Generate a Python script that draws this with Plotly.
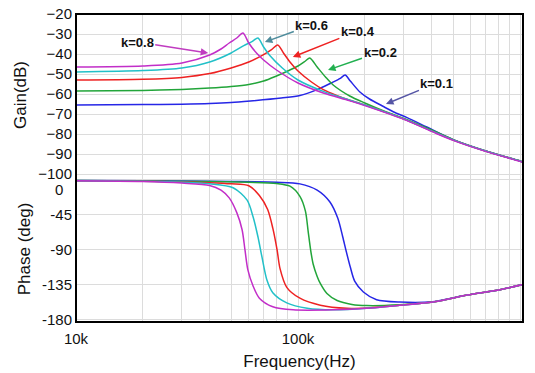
import plotly.graph_objects as go
from plotly.subplots import make_subplots
import math

# ---------------- data ----------------
labels = ["k=0.1", "k=0.2", "k=0.4", "k=0.6", "k=0.8"]
colors = ["#2626e6", "#22a53a", "#ee2222", "#22c0c8", "#c22ec8"]

# Gain curves (Hz, dB)
gain_f_01 = [10e3, 20e3, 30e3, 40e3, 50e3, 61e3, 84e3, 102e3, 122e3, 141e3, 155e3, 163e3, 172e3,
             190e3, 210e3, 240e3, 270e3, 310e3, 380e3, 500e3, 700e3, 1000e3, 1030e3]
gain_01 = [-65.5, -65.3, -65.1, -64.8, -64.3, -63.5, -62, -60.8, -57.8, -54.5, -52.2, -50.5, -53.5,
           -59, -62.5, -66, -69, -71.8, -76.5, -82.8, -88.5, -93.5, -94]

gain_f_02 = [10e3, 20e3, 30e3, 40e3, 50e3, 60e3, 70e3, 80e3, 90e3, 100e3, 108e3, 113e3, 122e3,
             133e3, 144e3, 171e3, 200e3, 250e3, 300e3, 400e3, 500e3, 700e3, 1000e3, 1030e3]
gain_02 = [-58.5, -58.2, -57.7, -57, -56.2, -55.2, -53.5, -51, -48.5, -46, -43.5, -42, -46.5,
           -51.5, -55.5, -61, -64.5, -69, -72.2, -78, -82.8, -88.5, -93.5, -94]

gain_f_04 = [10e3, 20e3, 30e3, 40e3, 50e3, 60e3, 70e3, 76e3, 81e3, 86e3, 92e3, 100e3, 115e3,
             130e3, 150e3, 170e3, 200e3, 300e3, 400e3, 500e3, 700e3, 1000e3, 1030e3]
gain_04 = [-53, -52.6, -51.7, -49.8, -47, -44, -40.3, -37.8, -35.5, -39.5, -44, -48.5, -54,
           -57.8, -60.8, -63, -65.5, -72.5, -78.5, -83, -88.5, -93.5, -94]

gain_f_06 = [10e3, 20e3, 30e3, 40e3, 50e3, 57e3, 62e3, 66e3, 70e3, 75e3, 85e3, 100e3, 130e3,
             170e3, 200e3, 300e3, 400e3, 500e3, 700e3, 1000e3, 1030e3]
gain_06 = [-49, -48.3, -47, -44, -39.5, -35.8, -33.8, -32, -36.5, -41, -47, -53, -58.7,
           -63, -65.5, -72.5, -78.5, -83, -88.5, -93.5, -94]

gain_f_08 = [10e3, 20e3, 30e3, 40e3, 45e3, 49e3, 53e3, 56.5e3, 60e3, 65e3, 70e3, 80e3, 100e3,
             130e3, 170e3, 200e3, 300e3, 400e3, 500e3, 700e3, 1000e3, 1030e3]
gain_08 = [-46.5, -46, -44.5, -40.5, -37.5, -34.5, -32, -29.5, -34.5, -39.5, -43, -48, -54.5,
           -59.5, -63.3, -65.8, -72.7, -78.7, -83.2, -88.7, -93.7, -94.2]

# Phase curves (Hz, deg)
phase_f_01 = [10e3, 20e3, 50e3, 80e3, 102e3, 122e3, 139e3, 151e3, 159e3, 165e3, 172e3, 180e3,
              197e3, 226e3, 287e3, 405e3, 577e3, 812e3, 1030e3]
phase_01 = [-0.8, -1, -2, -3, -5, -13, -28, -49, -73, -92, -112, -130,
            -144, -154, -157, -156.5, -148, -141, -134.5]

phase_f_02 = [10e3, 20e3, 40e3, 60e3, 80e3, 92e3, 102e3, 108e3, 111e3, 114e3, 117e3, 122e3,
              126e3, 135e3, 150e3, 175e3, 204e3, 287e3, 405e3, 577e3, 812e3, 1030e3]
phase_02 = [-0.8, -1.2, -2, -3, -4.5, -8, -21, -40, -65, -90, -108, -124,
            -133, -146, -155, -160, -161.5, -160.5, -157, -148, -141, -134.5]

phase_f_04 = [10e3, 20e3, 30e3, 40e3, 50e3, 60e3, 67e3, 73e3, 77e3, 80.5e3, 83e3, 89e3,
              102e3, 126e3, 166e3, 204e3, 287e3, 405e3, 577e3, 812e3, 1030e3]
phase_04 = [-1, -1.5, -2.5, -3.5, -5, -7.5, -20, -38, -62, -90, -114, -138,
            -152, -161, -165, -164.5, -161, -157, -148, -141, -134.5]

phase_f_06 = [10e3, 20e3, 30e3, 40e3, 51e3, 59e3, 62.7e3, 66e3, 68.8e3, 72.5e3, 77e3, 89e3,
              110e3, 144e3, 204e3, 287e3, 405e3, 577e3, 812e3, 1030e3]
phase_06 = [-1, -1.8, -3, -5, -10, -26, -47, -73, -99, -129, -145, -158,
            -165, -167, -165, -161, -157, -148, -141, -134.5]

phase_f_08 = [10e3, 20e3, 30e3, 40e3, 45e3, 49e3, 53e3, 56e3, 57.7e3, 59.5e3, 62.7e3, 67e3,
              77e3, 95e3, 144e3, 204e3, 287e3, 405e3, 577e3, 812e3, 1030e3]
phase_08 = [-1, -2, -4, -7, -13, -23, -42, -64, -90, -116, -136, -152,
            -163, -167, -167, -165, -161, -157, -148, -141, -134.5]

gain_f = [gain_f_01, gain_f_02, gain_f_04, gain_f_06, gain_f_08]
gain = [gain_01, gain_02, gain_04, gain_06, gain_08]
phase_f = [phase_f_01, phase_f_02, phase_f_04, phase_f_06, phase_f_08]
phase = [phase_01, phase_02, phase_04, phase_06, phase_08]

gain_ticks = [-20, -30, -40, -50, -60, -70, -80, -90, -100]
phase_ticks = [0, -45, -90, -135, -180]
x_major = {1e4: "10k", 1e5: "100k", 1e6: "1000k"}

# label annotations: (label, arrow head freq, arrow head gain, text offset px, arrow colour)
ann_label = ["k=0.8", "k=0.6", "k=0.4", "k=0.2", "k=0.1"]
ann_head_f = [39.4e3, 70.9e3, 94.8e3, 136.5e3, 249e3]
ann_head_g = [-39.5, -34, -41.5, -48, -65]
ann_dx = [-71, 47, 65, 52, 51]
ann_dy = [-11, -17, -26, -18, -21]
ann_color = ["#c03cc0", "#4f8c9c", "#ee2222", "#22b050", "#5555a5"]

# ---------------- figure ----------------
FONT = "Liberation Sans, Arial, sans-serif"
TXT = "#111"
fig = make_subplots(rows=2, cols=1, shared_xaxes=True, vertical_spacing=0,
                    row_heights=[162 / 308, 146 / 308])

for i in range(len(labels)):
    fig.add_trace(go.Scatter(x=gain_f[i], y=gain[i], mode="lines", name=labels[i],
                             line=dict(color=colors[i], width=1.5, shape="spline", smoothing=0.8),
                             showlegend=False, hoverinfo="skip"), row=1, col=1)
for i in range(len(labels)):
    fig.add_trace(go.Scatter(x=phase_f[i], y=phase[i], mode="lines", name=labels[i],
                             line=dict(color=colors[i], width=1.5, shape="spline", smoothing=0.8),
                             showlegend=False, hoverinfo="skip"), row=2, col=1)

grid_vals = []
grid_text = []
for dec in [1e4, 1e5]:
    for m in range(1, 10):
        v = m * dec
        grid_vals.append(v)
        grid_text.append(x_major.get(v, ""))
grid_vals.append(1e6)
grid_text.append("1000k")

GRID = "#dcdcdc"
xcommon = dict(type="log", range=[4, 6.0135], tickvals=grid_vals, ticktext=grid_text,
               showgrid=True, gridcolor=GRID, gridwidth=1, zeroline=False, ticks="",
               showline=False, automargin=False, ticklabelstandoff=6,
               tickfont=dict(family=FONT, size=15, color=TXT))
fig.update_xaxes(**xcommon)
fig.update_xaxes(showticklabels=False, row=1, col=1)
fig.update_xaxes(title=dict(text="Frequency(Hz)", font=dict(family=FONT, size=17, color=TXT),
                            standoff=9), row=2, col=1)

fig.update_yaxes(range=[-101, -20], tickvals=gain_ticks, showgrid=True, gridcolor=GRID,
                 zeroline=False, ticks="", automargin=False, ticklabelstandoff=3,
                 tickfont=dict(family=FONT, size=15, color=TXT),
                 title=dict(text="Gain(dB)", font=dict(family=FONT, size=17, color=TXT), standoff=7),
                 row=1, col=1)
fig.update_yaxes(range=[-182.6, 5.1], tickvals=phase_ticks,
                 ticktext=["" if t == 0 else str(t) for t in phase_ticks],
                 showgrid=True, gridcolor=GRID, zeroline=False, ticks="", automargin=False,
                 ticklabelstandoff=3,
                 tickfont=dict(family=FONT, size=15, color=TXT),
                 title=dict(text="Phase (deg)", font=dict(family=FONT, size=17, color=TXT), standoff=7),
                 row=2, col=1)

# frame around the plot area
fig.add_shape(type="rect", xref="paper", yref="paper", x0=0, x1=1, y0=0, y1=1,
              line=dict(color="black", width=2), layer="above")

# phase "0" tick label (drawn slightly lower as in the reference)
fig.add_annotation(xref="paper", yref="y2", x=-11 / 447, y=0, xanchor="right", yanchor="middle",
                   yshift=-10, text="0", showarrow=False, font=dict(family=FONT, size=15, color=TXT))

for i in range(len(ann_label)):
    fig.add_annotation(xref="x", yref="y", x=math.log10(ann_head_f[i]), y=ann_head_g[i],
                       ax=ann_dx[i], ay=ann_dy[i], axref="pixel", ayref="pixel",
                       text="<b>" + ann_label[i] + "</b>", showarrow=True,
                       arrowhead=2, arrowsize=1, arrowwidth=1.5, arrowcolor=ann_color[i],
                       font=dict(family=FONT, size=13, color=TXT))

fig.update_layout(width=535, height=373, margin=dict(l=76, r=12, t=14, b=51, autoexpand=False),
                  plot_bgcolor="white", paper_bgcolor="white", hovermode=False,
                  font=dict(family=FONT, color=TXT))

fig.write_html("out.html", config={"displayModeBar": False, "staticPlot": True},
               post_script="document.body.style.margin='0';document.body.style.overflow='hidden';")
